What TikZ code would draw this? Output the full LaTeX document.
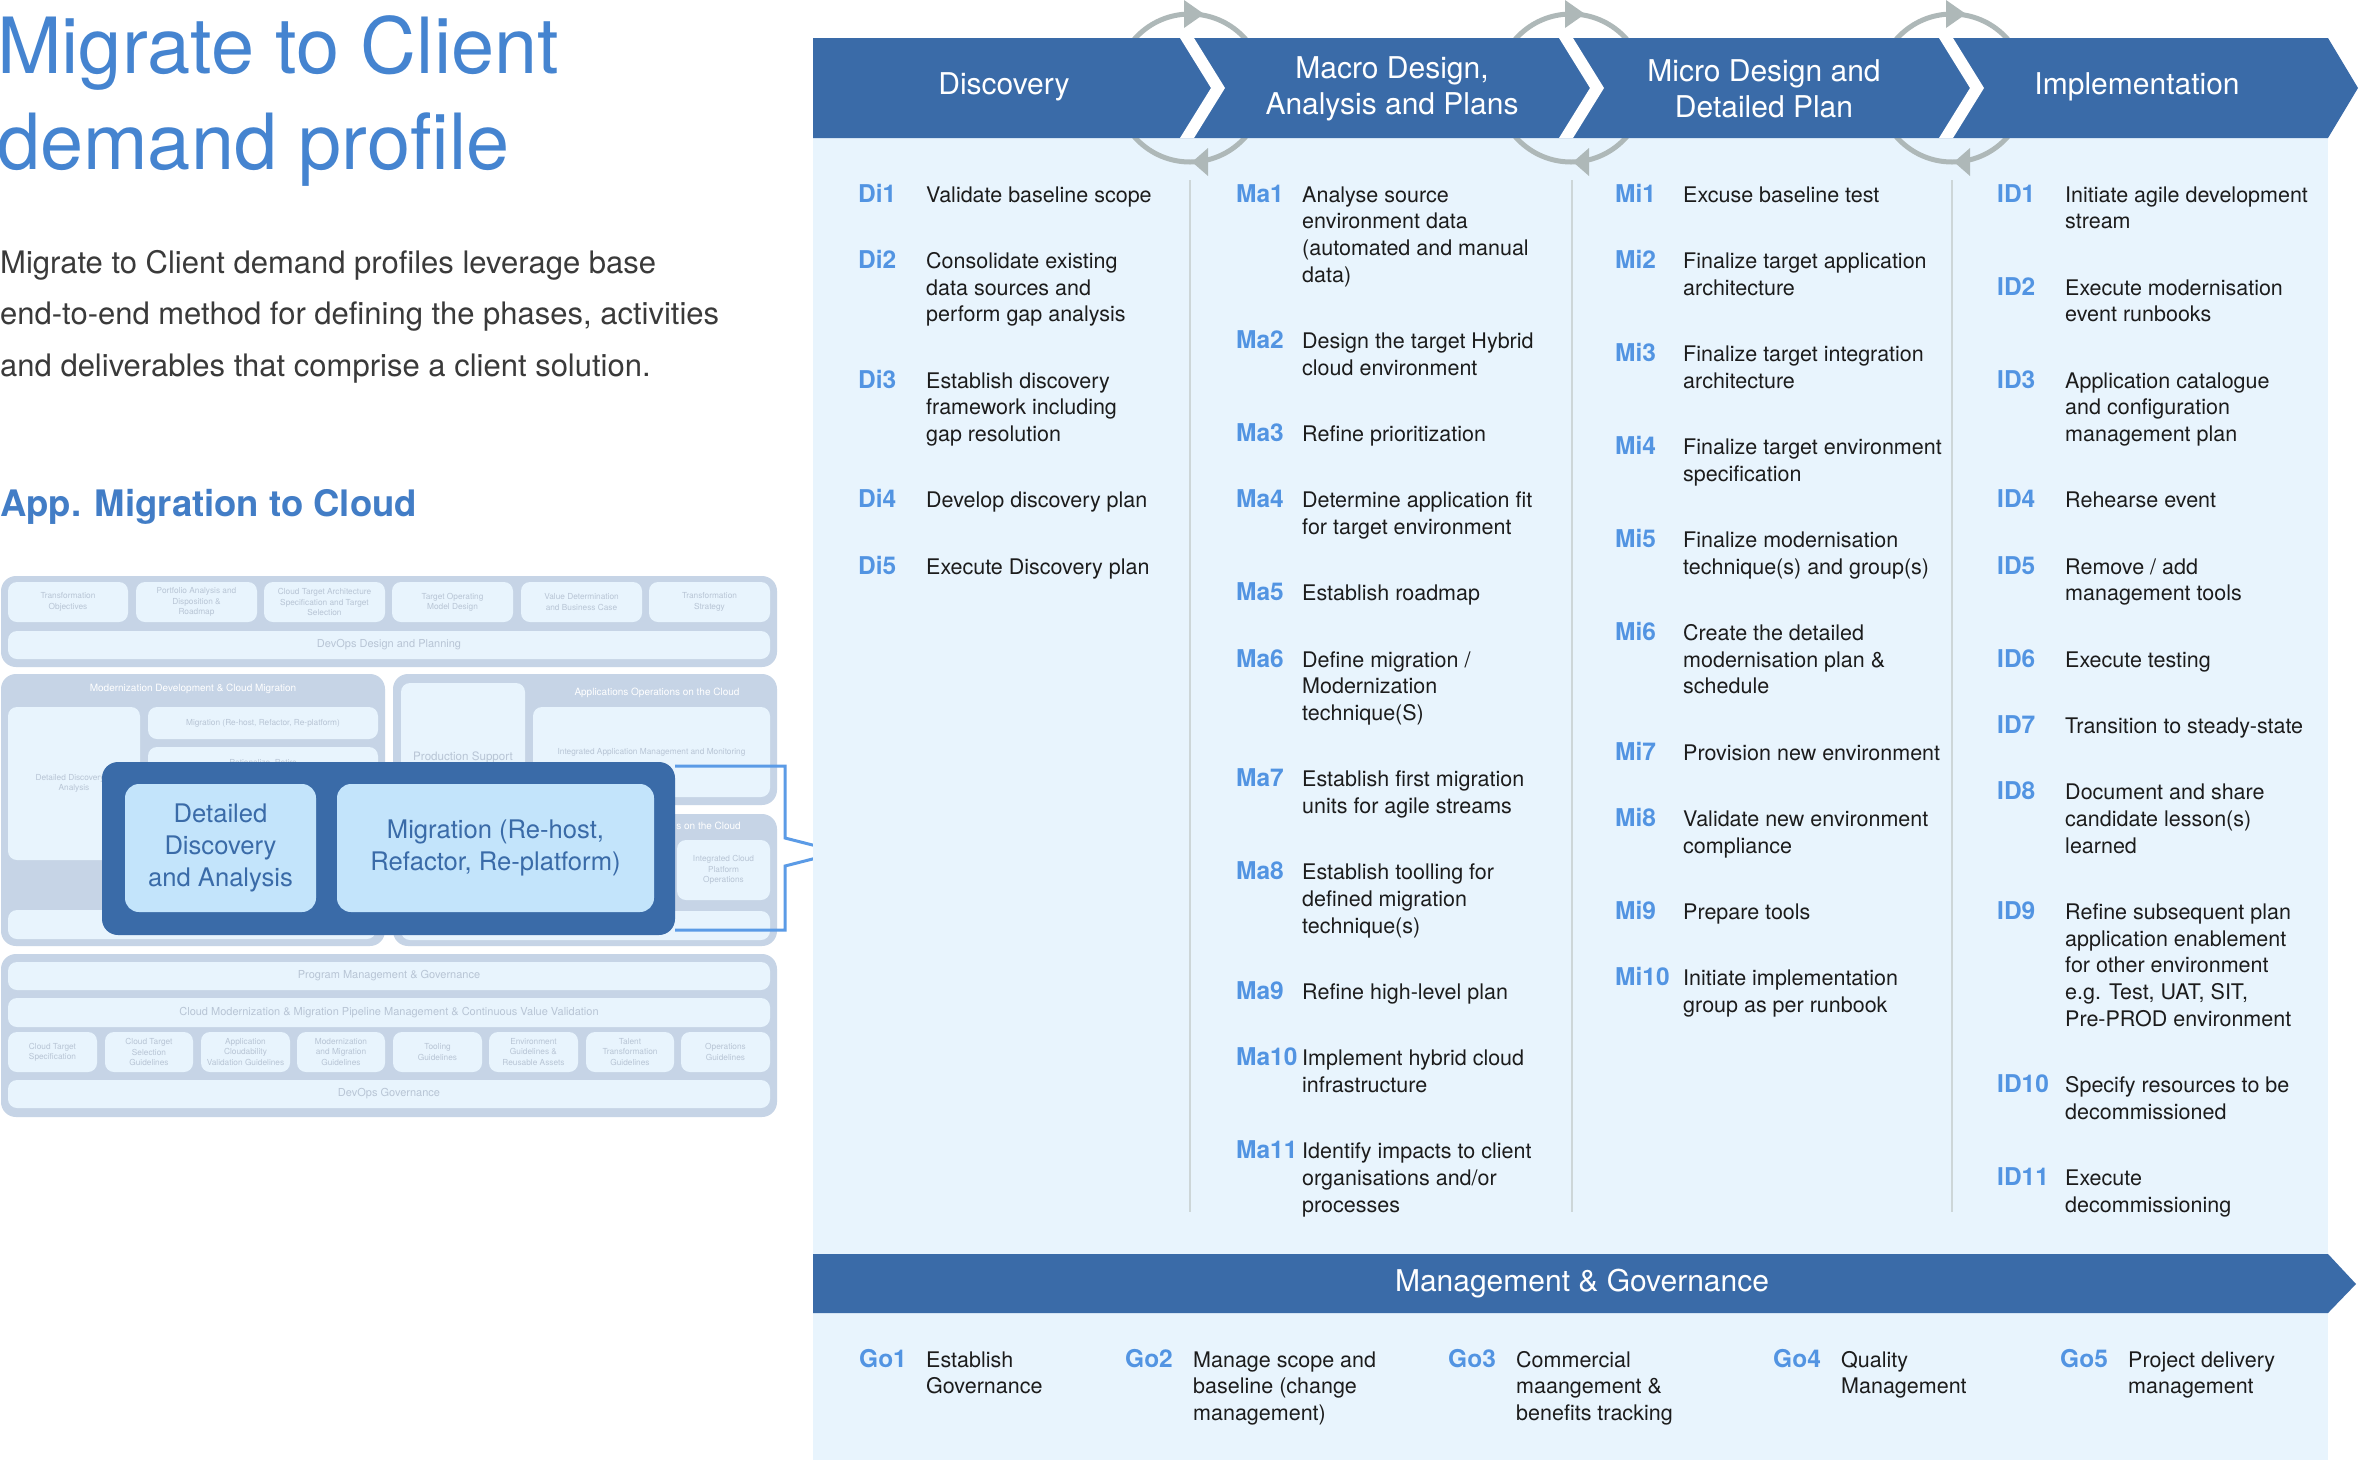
\documentclass[tikz,border=0pt]{standalone}
\usepackage{fontspec}
\setmainfont{TeX Gyre Heros}
\definecolor{hdr}{HTML}{3A6BA8}
\definecolor{panel}{HTML}{E8F4FD}
\definecolor{lbl}{HTML}{5294E2}
\definecolor{ring}{HTML}{AEB8B8}
\definecolor{sep}{HTML}{CDD6D8}
\definecolor{grp}{HTML}{C6D4E6}
\definecolor{cell}{HTML}{E8F4FD}
\definecolor{faint}{HTML}{B8C5D5}
\definecolor{ttl}{HTML}{4584D0}
\definecolor{body}{HTML}{1C1C1C}
\definecolor{para}{HTML}{3A3A3A}
\definecolor{focus}{HTML}{C3E4FB}
\definecolor{callout}{HTML}{5B9BE6}

\tikzset{
  item/.style={anchor=base west, inner sep=0pt, font=\fontsize{21.5}{26.7}\selectfont, text=body},
  tag/.style={anchor=base west, inner sep=0pt, font=\fontsize{24.5}{26.7}\selectfont\bfseries, text=lbl},
  phase/.style={text=white, font=\fontsize{30}{36}\selectfont, align=center, inner sep=0pt},
  cellnode/.style={fill=cell, rounded corners=9pt, inner sep=0pt, align=center,
    font=\fontsize{8.3}{10.3}\selectfont, text=faint},
  barfont/.style={font=\fontsize{11}{13}\selectfont},
  grptitle/.style={text=white, inner sep=0pt, font=\fontsize{10}{12}\selectfont},
  focuscell/.style={fill=focus, rounded corners=14pt, inner sep=0pt, align=center,
    text=hdr, font=\fontsize{25.6}{32}\selectfont},
}

% numbered entry: label x, text x, name, baseline y, text lines
\newcommand\entry[5]{%
  \node[tag] (#3) at (#1,#4) {#3};
  \node[item] (#3-t) at (#2,#4) {\begin{tabular}[t]{@{}l@{}}#5\end{tabular}};}

% faded cell of the small overview: [options] name x1 y1 x2 y2 text
\newcommand\minicell[7][]{%
  \node[cellnode, minimum width={(#5-#3)*1pt}, minimum height={(#6-#4)*1pt}, #1]
    (#2) at ({(#3+#5)/2},{(#4+#6)/2}) {#7};}

\begin{document}
\begin{tikzpicture}[x=1pt, y=-1pt]
\useasboundingbox (0,0) rectangle (2360,1460);
\fill[white] (0,0) rectangle (2360,1460);

% ---------- left: title and introduction ----------
\node[anchor=base west, inner sep=0pt, text=ttl, font=\fontsize{77.5}{96}\selectfont]
  (title) at (-3,73) {\begin{tabular}[t]{@{}l@{}}Migrate to Client\\demand profile\end{tabular}};
\node[anchor=base west, inner sep=0pt, text=para, font=\fontsize{31}{51.5}\selectfont]
  (intro) at (0,273) {\begin{tabular}[t]{@{}l@{}}Migrate to Client demand profiles leverage base\\end-to-end method for defining the phases, activities\\and deliverables that comprise a client solution.\end{tabular}};
\node[anchor=base west, inner sep=0pt, text=ttl!95!black, font=\fontsize{36.5}{44}\selectfont\bfseries]
  (sub) at (0,516) {App. Migration to Cloud};

% ---------- small overview of the method ----------
\fill[grp, rounded corners=15pt] (1,576) rectangle (777,667);
\minicell{t1}{8}{582}{128}{622}{Transformation\\Objectives}
\minicell{t2}{136}{582}{257}{622}{Portfolio Analysis and\\Disposition \&\\Roadmap}
\minicell{t3}{264}{582}{385}{622}{Cloud Target Architecture\\Specification and Target\\Selection}
\minicell{t4}{392}{582}{513}{622}{Target Operating\\Model Design}
\minicell{t5}{521}{582}{642}{622}{Value Determination\\and Business Case}
\minicell{t6}{649}{582}{770}{622}{Transformation\\Strategy}
\minicell[barfont]{tbar}{8}{631}{770}{659}{DevOps Design and Planning}

\fill[grp, rounded corners=15pt] (1,674) rectangle (385,946);
\node[grptitle] (g1) at (193,689) {Modernization Development \& Cloud Migration};
\minicell{m1}{8}{707}{140}{860}{Detailed Discovery \&\\Analysis}
\minicell{m2}{148}{707}{378}{739}{Migration (Re-host, Refactor, Re-platform)}
\minicell{m3}{148}{747}{378}{779}{Rationalize, Retire}
\minicell{mbar}{8}{910}{376}{939}{}

\fill[grp, rounded corners=15pt] (393,674) rectangle (777,805);
\node[grptitle] (g2) at (657,693) {Applications Operations on the Cloud};
\minicell[minimum height=114pt]{a1}{401}{683}{525}{797}{}
\node[inner sep=0pt, text=faint, font=\fontsize{11.6}{14}\selectfont] (a1t) at (463,757) {Production Support};
\minicell{a2}{533}{707}{770}{797}{Integrated Application Management and Monitoring}

\fill[grp, rounded corners=15pt] (393,814) rectangle (777,946);
\node[grptitle, anchor=east] (g3) at (741,826) {s on the Cloud};
\minicell{b1}{677}{840}{770}{900}{Integrated Cloud\\Platform\\Operations}
\minicell{bbar}{401}{911}{770}{940}{}

\fill[grp, rounded corners=15pt] (1,954) rectangle (777,1117);
\minicell[barfont]{p1}{8}{962}{770}{990}{Program Management \& Governance}
\minicell[barfont]{p2}{8}{998}{770}{1027}{Cloud Modernization \& Migration Pipeline Management \& Continuous Value Validation}
\minicell{q1}{8}{1032}{97}{1072}{Cloud Target\\Specification}
\minicell{q2}{105}{1032}{193}{1072}{Cloud Target\\Selection\\Guidelines}
\minicell{q3}{201}{1032}{290}{1072}{Application\\Cloudability\\Validation Guidelines}
\minicell{q4}{297}{1032}{385}{1072}{Modernization\\and Migration\\Guidelines}
\minicell{q5}{393}{1032}{482}{1072}{Tooling\\Guidelines}
\minicell{q6}{489}{1032}{578}{1072}{Environment\\Guidelines \&\\Reusable Assets}
\minicell{q7}{586}{1032}{674}{1072}{Talent\\Transformation\\Guidelines}
\minicell{q8}{681}{1032}{770}{1072}{Operations\\Guidelines}
\minicell[barfont]{p3}{8}{1080}{770}{1108}{DevOps Governance}

% bracket pointing from the highlighted stage to the phase table
\coordinate (cTop) at (675,766);
\coordinate (cBot) at (675,930);
\coordinate (cTip) at (840,852);
\draw[callout, line width=3pt, line join=miter]
  (cTop) -- (785,766) -- (785,838) -- (cTip) -- (785,866) -- (785,930) -- (cBot);

% highlighted stage
\node[fill=hdr, rounded corners=16pt, inner sep=0pt, minimum width=573pt, minimum height=173pt]
  (hl) at (388.5,848.5) {};
\node[focuscell, minimum width=191pt, minimum height=128pt] (hl1) at (220.5,848)
  {Detailed\\Discovery\\and Analysis};
\node[focuscell, minimum width=317pt, minimum height=128pt] (hl2) at (495.5,848)
  {Migration (Re-host,\\Refactor, Re-platform)};

% ---------- right: phase table ----------
\fill[panel] (813,138) rectangle (2328,1460);

% iteration rings between the phases
\foreach \c in {1190,1571,1952} {
  \draw[ring, line width=5pt] (\c,88) circle (74);
  \fill[ring] ({\c-6},0) -- ({\c+14},14) -- ({\c-6},28) -- cycle;
  \fill[ring] ({\c+18},148) -- ({\c+2},162) -- ({\c+18},176) -- cycle;
}

% phase band with white chevron gaps
\fill[hdr] (813,38) -- (2328,38) -- (2358,88) -- (2328,138) -- (813,138) -- cycle;
\foreach \a in {1180,1559,1939} {
  \fill[white] (\a,38) -- ({\a+14},38) -- ({\a+45},88) -- ({\a+14},138) -- (\a,138) -- ({\a+31},88) -- cycle;
}
\node[phase] (ph1) at (1004,87) {Discovery};
\node[phase] (ph2) at (1392,89) {Macro Design,\\Analysis and Plans};
\node[phase] (ph3) at (1764,89) {Micro Design and\\Detailed Plan};
\node[phase] (ph4) at (2137,87) {Implementation};

% column rules
\foreach \s in {1190,1572,1952} {
  \draw[sep, line width=2.5pt] (\s,180) -- (\s,1212);
}

% Discovery
\entry{858}{926}{Di1}{202}{Validate baseline scope}
\entry{858}{926}{Di2}{268.3}{Consolidate existing\\data sources and\\perform gap analysis}
\entry{858}{926}{Di3}{388.0}{Establish discovery\\framework including\\gap resolution}
\entry{858}{926}{Di4}{507.7}{Develop discovery plan}
\entry{858}{926}{Di5}{574.0}{Execute Discovery plan}

% Macro design
\entry{1236}{1302}{Ma1}{202}{Analyse source\\environment data\\(automated and manual\\data)}
\entry{1236}{1302}{Ma2}{348.4}{Design the target Hybrid\\cloud environment}
\entry{1236}{1302}{Ma3}{441.4}{Refine prioritization}
\entry{1236}{1302}{Ma4}{507.7}{Determine application fit\\for target environment}
\entry{1236}{1302}{Ma5}{600.7}{Establish roadmap}
\entry{1236}{1302}{Ma6}{667.0}{Define migration /\\Modernization\\technique(S)}
\entry{1236}{1302}{Ma7}{786.7}{Establish first migration\\units for agile streams}
\entry{1236}{1302}{Ma8}{879.7}{Establish toolling for\\defined migration\\technique(s)}
\entry{1236}{1302}{Ma9}{999.4}{Refine high-level plan}
\entry{1236}{1302}{Ma10}{1065.7}{Implement hybrid cloud\\infrastructure}
\entry{1236}{1302}{Ma11}{1158.7}{Identify impacts to client\\organisations and/or\\processes}

% Micro design
\entry{1615}{1683}{Mi1}{202}{Excuse baseline test}
\entry{1615}{1683}{Mi2}{268.3}{Finalize target application\\architecture}
\entry{1615}{1683}{Mi3}{361.3}{Finalize target integration\\architecture}
\entry{1615}{1683}{Mi4}{454.3}{Finalize target environment\\specification}
\entry{1615}{1683}{Mi5}{547.3}{Finalize modernisation\\technique(s) and group(s)}
\entry{1615}{1683}{Mi6}{640.3}{Create the detailed\\modernisation plan \&\\schedule}
\entry{1615}{1683}{Mi7}{760.0}{Provision new environment}
\entry{1615}{1683}{Mi8}{826.3}{Validate new environment\\compliance}
\entry{1615}{1683}{Mi9}{919.3}{Prepare tools}
\entry{1615}{1683}{Mi10}{985.6}{Initiate implementation\\group as per runbook}

% Implementation
\entry{1997}{2065}{ID1}{202}{Initiate agile development\\stream}
\entry{1997}{2065}{ID2}{295.0}{Execute modernisation\\event runbooks}
\entry{1997}{2065}{ID3}{388.0}{Application catalogue\\and configuration\\management plan}
\entry{1997}{2065}{ID4}{507.7}{Rehearse event}
\entry{1997}{2065}{ID5}{574.0}{Remove / add\\management tools}
\entry{1997}{2065}{ID6}{667.0}{Execute testing}
\entry{1997}{2065}{ID7}{733.3}{Transition to steady-state}
\entry{1997}{2065}{ID8}{799.6}{Document and share\\candidate lesson(s)\\learned}
\entry{1997}{2065}{ID9}{919.3}{Refine subsequent plan\\application enablement\\for other environment\\e.g. Test, UAT, SIT,\\Pre-PROD environment}
\entry{1997}{2065}{ID10}{1092.4}{Specify resources to be\\decommissioned}
\entry{1997}{2065}{ID11}{1185.4}{Execute\\decommissioning}

% governance band
\fill[hdr] (813,1254) -- (2328,1254) -- (2356,1284) -- (2328,1313) -- (813,1313) -- cycle;
\node[phase] (mg) at (1582,1284) {Management \& Governance};

\entry{859}{926}{Go1}{1367}{Establish\\Governance}
\entry{1125}{1193}{Go2}{1367}{Manage scope and\\baseline (change\\management)}
\entry{1448}{1516}{Go3}{1367}{Commercial\\maangement \&\\benefits tracking}
\entry{1773}{1841}{Go4}{1367}{Quality\\Management}
\entry{2060}{2128}{Go5}{1367}{Project delivery\\management}
\end{tikzpicture}
\end{document}
